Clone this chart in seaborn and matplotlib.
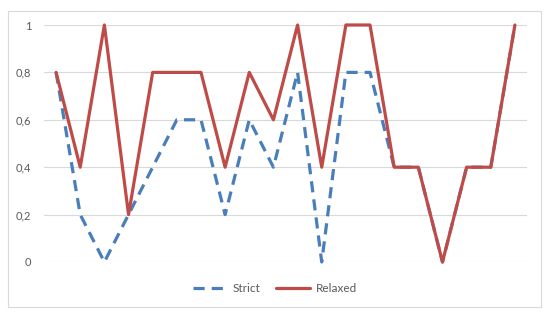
import pandas as pd
import matplotlib
matplotlib.use("Agg")
import matplotlib.pyplot as plt
import seaborn as sns
from matplotlib.patches import Rectangle
from matplotlib.ticker import FuncFormatter

# values (20 categories, no x labels)
strict = [0.8, 0.2, 0.0, 0.2, 0.4, 0.6, 0.6, 0.2, 0.6, 0.4,
          0.8, 0.0, 0.8, 0.8, 0.4, 0.4, 0.0, 0.4, 0.4, 1.0]
relaxed = [0.8, 0.4, 1.0, 0.2, 0.8, 0.8, 0.8, 0.4, 0.8, 0.6,
           1.0, 0.4, 1.0, 1.0, 0.4, 0.4, 0.0, 0.4, 0.4, 1.0]
series_names = ["Strict", "Relaxed"]
y_ticks = [0, 0.2, 0.4, 0.6, 0.8, 1.0]

df = pd.DataFrame({
    "idx": list(range(len(strict))) * 2,
    "value": strict + relaxed,
    "series": [series_names[0]] * len(strict) + [series_names[1]] * len(relaxed),
})

sns.set_style("white")
plt.rcParams["font.family"] = ["Lato", "DejaVu Sans"]

grey = "#595959"
grid_c = "#D9D9D9"
colors = {"Strict": "#4A7EBB", "Relaxed": "#BE4B48"}

fig = plt.figure(figsize=(5.5, 3.18), dpi=100)
ax = fig.add_axes([44 / 550, 1 - 262 / 318, 483 / 550, 237 / 318])

sns.lineplot(data=df, x="idx", y="value", hue="series", style="series",
             palette=colors, dashes={"Strict": (3.5, 2.2), "Relaxed": ""},
             linewidth=2.3, ax=ax, legend=False)

ax.set_xlim(-0.5, len(strict) - 0.5)
ax.set_ylim(0, 1)
ax.set_yticks(y_ticks)
ax.yaxis.set_major_formatter(FuncFormatter(lambda v, p: ("%g" % round(v, 1)).replace(".", ",")))
ax.set_xticks([])
ax.set_xlabel("")
ax.set_ylabel("")
ax.tick_params(axis="y", length=0, pad=9, labelsize=8, labelcolor=grey)
ax.grid(axis="y", color=grid_c, linewidth=0.8)
ax.set_axisbelow(True)
for s in ax.spines.values():
    s.set_visible(False)
ax.patch.set_alpha(0)

# round joins so sharp vertices don't overshoot
for ln in ax.get_lines():
    ln.set_clip_on(False)
    ln.set_solid_joinstyle("round")
    ln.set_dash_joinstyle("round")
    ln.set_dash_capstyle("butt")

handles = [plt.Line2D([], [], color=colors["Strict"], lw=2.3, dashes=(3.5, 2.2)),
           plt.Line2D([], [], color=colors["Relaxed"], lw=2.3)]
fig.legend(handles, series_names, loc="center", bbox_to_anchor=(0.5, 1 - 289 / 318),
           ncol=2, frameon=False, fontsize=8.5, labelcolor=grey,
           handlelength=2.9, handletextpad=0.45, columnspacing=1.3)

fig.patches.append(Rectangle((8 / 550, 1 - 307 / 318), 533 / 550, 296 / 318,
                             transform=fig.transFigure, fill=False,
                             edgecolor=grid_c, linewidth=0.8))

fig.savefig("out.png", dpi=100)
